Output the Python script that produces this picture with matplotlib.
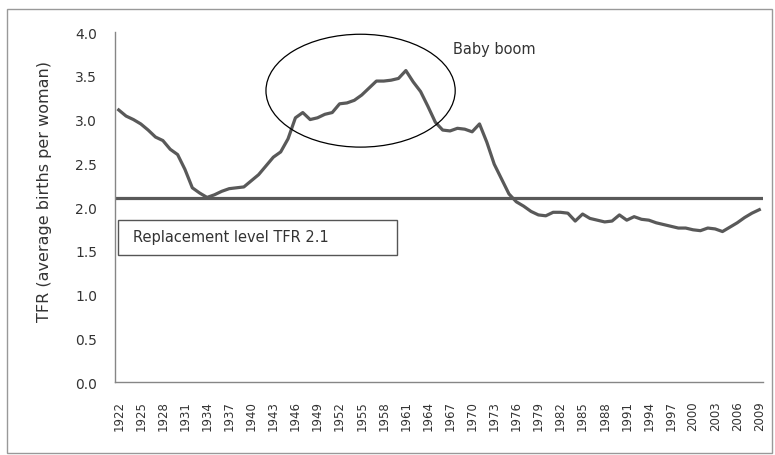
import matplotlib
matplotlib.use("Agg")
import matplotlib.pyplot as plt
from matplotlib.patches import Ellipse, Rectangle

# data
years = list(range(1922, 2010))
tfr = [
    3.11, 3.04, 3.00, 2.95, 2.88, 2.80, 2.76, 2.66, 2.60, 2.43,
    2.22, 2.16, 2.11, 2.14, 2.18, 2.21, 2.22, 2.23, 2.30, 2.37,
    2.47, 2.57, 2.63, 2.78, 3.02, 3.08, 3.00, 3.02, 3.06, 3.08,
    3.18, 3.19, 3.22, 3.28, 3.36, 3.44, 3.44, 3.45, 3.47, 3.56,
    3.43, 3.32, 3.15, 2.97, 2.88, 2.87, 2.90, 2.89, 2.86, 2.95,
    2.74, 2.49, 2.32, 2.15, 2.06, 2.01, 1.95, 1.91, 1.90, 1.94,
    1.94, 1.93, 1.84, 1.92, 1.87, 1.85, 1.83, 1.84, 1.91, 1.85,
    1.89, 1.86, 1.85, 1.82, 1.80, 1.78, 1.76, 1.76, 1.74, 1.73,
    1.76, 1.75, 1.72, 1.77, 1.82, 1.88, 1.93, 1.97,
]
replacement = 2.1
tick_years = years[::3]
y_ticks = [0.0, 0.5, 1.0, 1.5, 2.0, 2.5, 3.0, 3.5, 4.0]

line_col = "#595959"
axis_col = "#868686"
text_col = "#333333"

fig = plt.figure(figsize=(7.75, 4.56), dpi=100)
ax = fig.add_axes([0.1484, 0.160, 0.8361, 0.7675])

x = list(range(len(years)))
ax.plot(x, tfr, color=line_col, lw=2.3, solid_joinstyle="round", zorder=3)
ax.axhline(replacement, color=line_col, lw=2.3, zorder=2)

ax.set_xlim(-0.5, len(years) - 0.5)
ax.set_ylim(0, 4)

ax.set_xticks([years.index(y) for y in tick_years])
ax.set_xticklabels([str(y) for y in tick_years], rotation=90, fontsize=8.5, color=text_col)
ax.set_yticks(y_ticks)
ax.set_yticklabels(["%.1f" % v for v in y_ticks], fontsize=10, color=text_col)
ax.tick_params(axis="x", length=0, pad=13)
ax.tick_params(axis="y", length=0, pad=13)

for side in ["top", "right"]:
    ax.spines[side].set_visible(False)
for side in ["left", "bottom"]:
    ax.spines[side].set_color(axis_col)
    ax.spines[side].set_linewidth(1)

fig.text(45 / 775, 1 - 192 / 456, "TFR (average births per woman)",
         rotation=90, ha="center", va="center", fontsize=11.5, color=text_col)

# baby boom annotation
ax.add_patch(Ellipse((32.85, 3.33), 25.7, 1.29, fill=False, ec="black", lw=0.9, zorder=4))
ax.text(45.4, 3.81, "Baby boom", fontsize=10.5, color=text_col, va="center")

# replacement level label box
ax.add_patch(Rectangle((-0.1, 1.45), 37.9, 0.40, fill=False, ec="#555555", lw=1, zorder=4))
ax.text(1.9, 1.66, "Replacement level TFR 2.1", fontsize=10.5, color=text_col, va="center")

# outer chart frame
fig.patches.append(Rectangle((7 / 775, 2 / 456), 765 / 775, 444 / 456,
                             transform=fig.transFigure, fill=False,
                             ec="#999999", lw=1))

fig.savefig("out.png", dpi=100)
